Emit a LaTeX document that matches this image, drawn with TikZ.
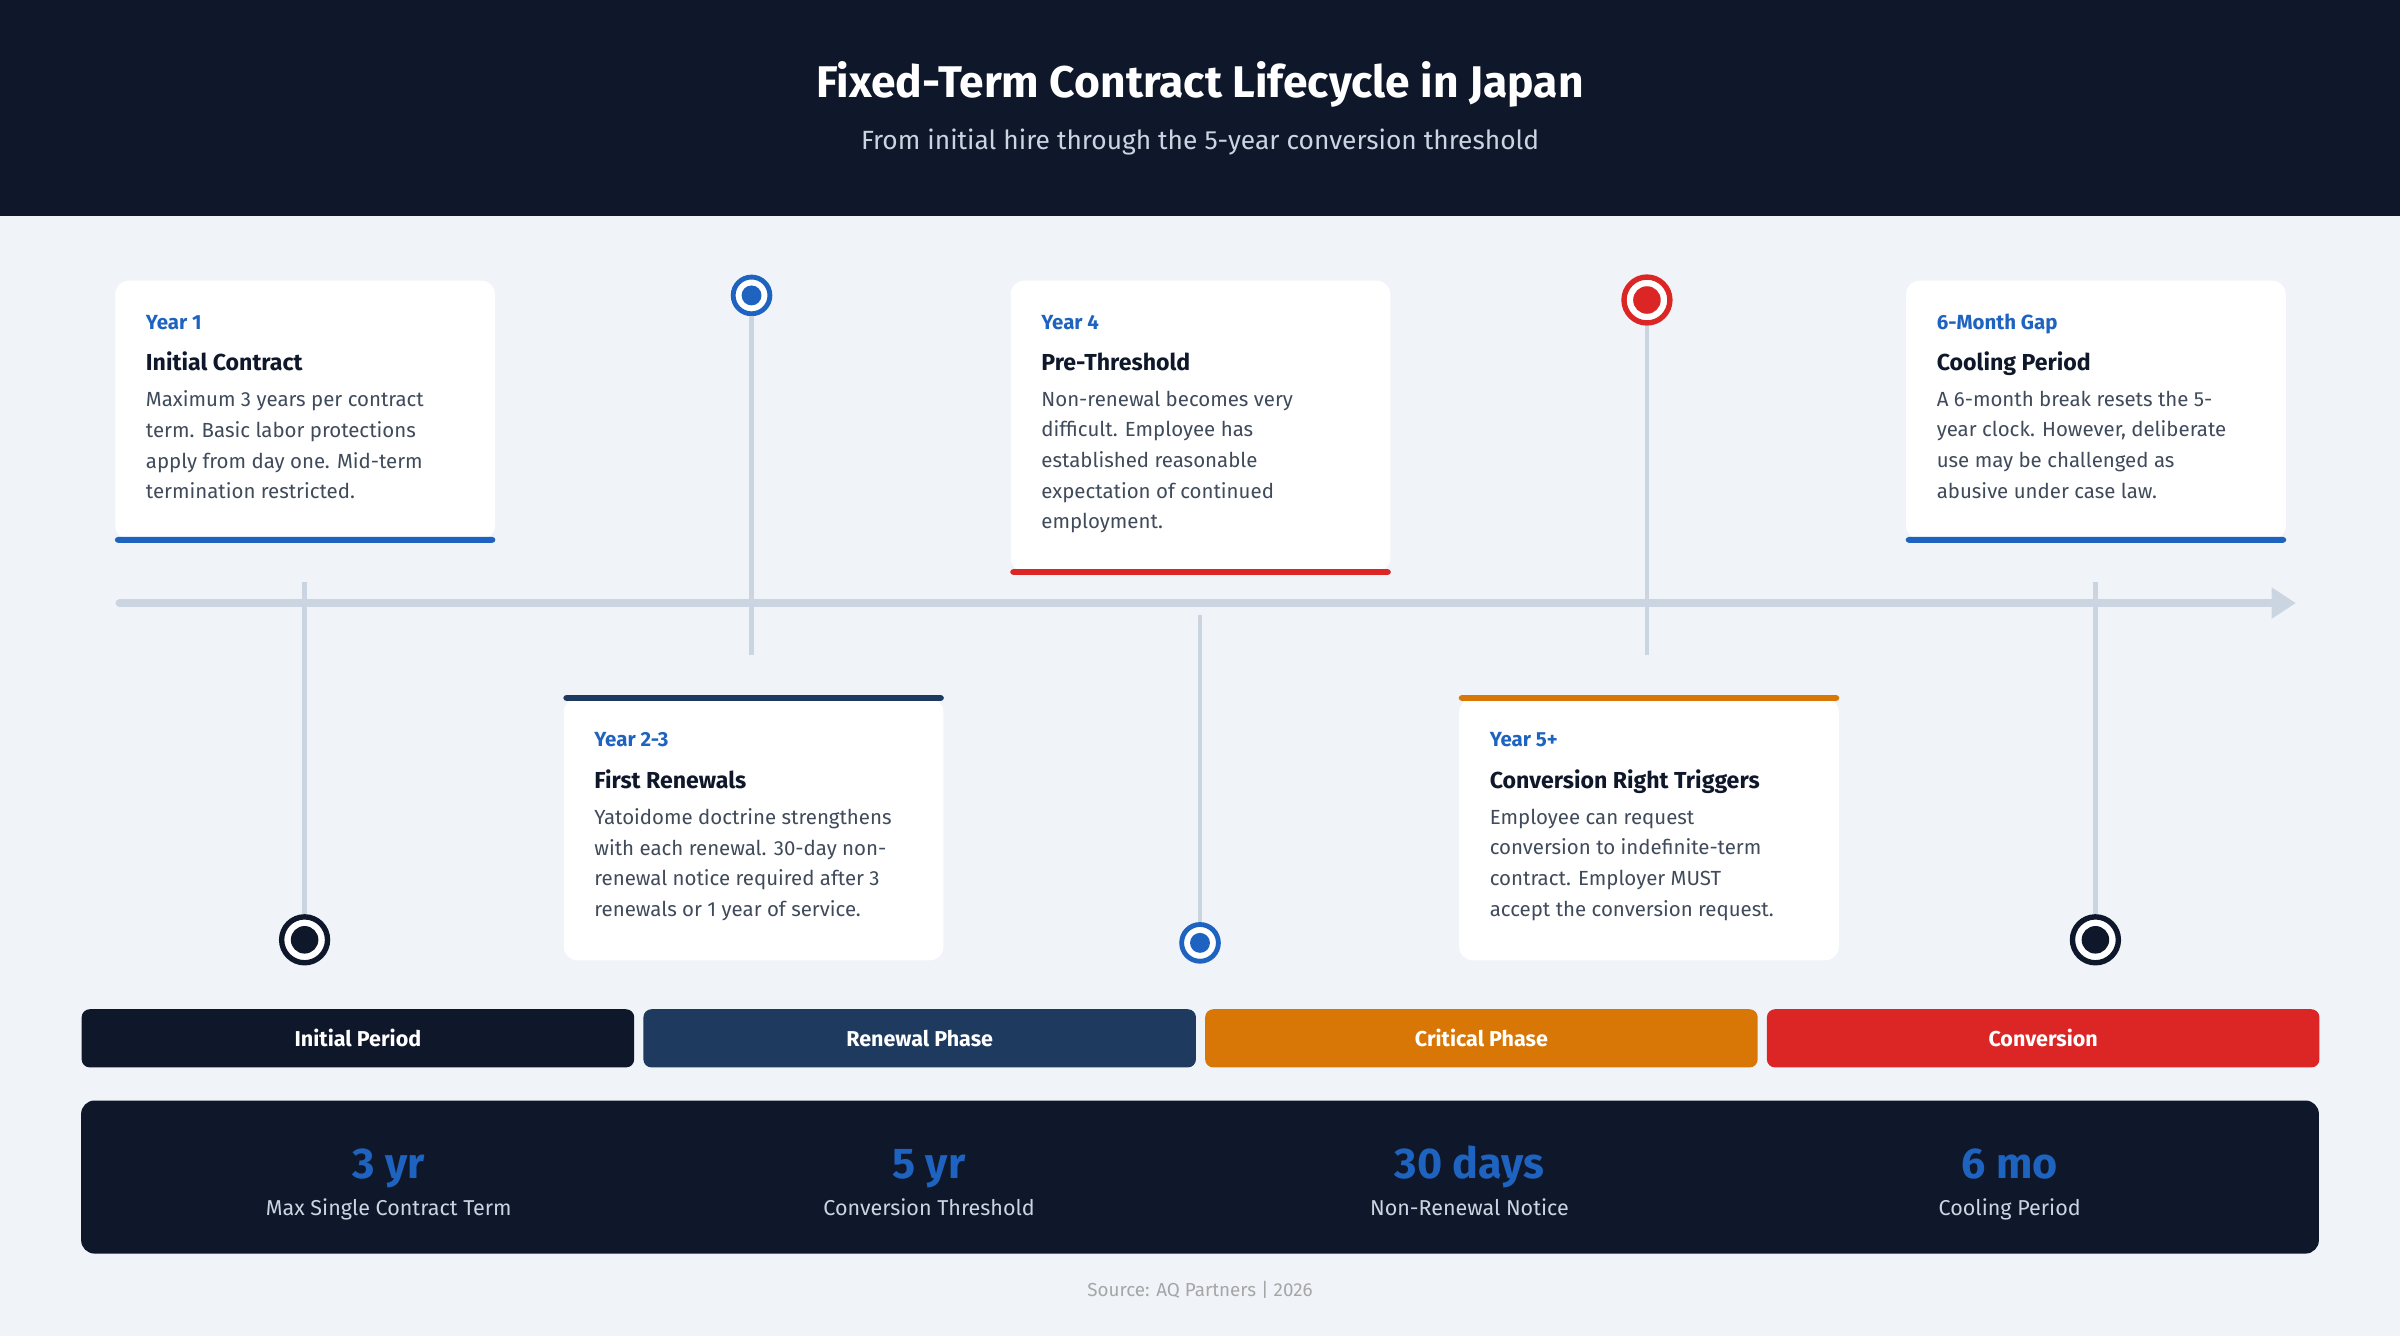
\documentclass[tikz,border=0pt]{standalone}
\usepackage{fontspec}
\setmainfont{Fira Sans}
\usetikzlibrary{arrows.meta}
\usetikzlibrary{positioning}

\definecolor{navy}{HTML}{0F172A}
\definecolor{slate}{HTML}{1E3A5F}
\definecolor{bluec}{HTML}{1E63C0}
\definecolor{redc}{HTML}{DC2626}
\definecolor{orangec}{HTML}{D97706}
\definecolor{pagebg}{HTML}{F0F4F8}
\definecolor{rail}{HTML}{CBD5E1}
\definecolor{bodytxt}{HTML}{3F4A5A}

\newcommand{\fs}[2]{\fontsize{#1}{#2}\selectfont}

% one event card: name, x, y (top left), height, label, title, body
\newcommand{\eventcard}[7]{%
  \node[card, minimum height=#4*0.02cm] (#1) at (#2,#3) {};
  \node[cardlabel] (#1-l) at ([xshift=20*0.02cm, yshift=-32*0.02cm]#1.north west) {#5};
  \node[cardtitle] (#1-t) at ([xshift=20*0.02cm, yshift=-59*0.02cm]#1.north west) {#6};
  \node[cardbody] (#1-b) at ([xshift=20*0.02cm, yshift=-72*0.02cm]#1.north west) {#7};
}

\begin{document}
\begin{tikzpicture}[x=0.02cm, y=-0.02cm]
  \tikzset{
    card/.style={anchor=north west, fill=white, rounded corners=5pt, minimum width=248*0.02cm, inner sep=0pt},
    cardlabel/.style={anchor=base west, inner sep=0pt, text=bluec, font=\fs{7.6}{9}\bfseries},
    cardtitle/.style={anchor=base west, inner sep=0pt, text=navy, font=\fs{8.6}{10}\bfseries},
    cardbody/.style={anchor=north west, inner sep=0pt, text=bodytxt, align=left, font=\fs{7.6}{11.4}},
    stem/.style={draw=rail, line width=1.6pt},
    phase/.style={anchor=north west, rounded corners=3pt, minimum width=361*0.02cm, minimum height=38*0.02cm, text=white, font=\fs{8}{10}\bfseries},
    statnum/.style={anchor=base, text=bluec, font=\fs{16}{18}\bfseries},
    statlbl/.style={anchor=base, text=rail, font=\fs{8}{10}},
  }
  % background and header
  \fill[pagebg] (0,0) rectangle (1568,873);
  \fill[navy] (0,0) rectangle (1568,141);
  \node[text=white, font=\fs{16.5}{20}\bfseries] (title) at (784,55) {Fixed-Term Contract Lifecycle in Japan};
  \node[text=rail, font=\fs{9.8}{12}] (subtitle) at (784,93) {From initial hire through the 5-year conversion threshold};

  % timeline rail
  \coordinate (railstart) at (78,394);
  \coordinate (railend) at (1500,394);
  \draw[rail, line width=2.8pt, line cap=round, -{Triangle[length=9pt, width=11pt]}] (railstart) -- (railend);

  % cards
  \eventcard{c1}{75}{183}{169}{Year 1}{Initial Contract}{Maximum 3 years per contract\\term. Basic labor protections\\apply from day one. Mid-term\\termination restricted.}
  \eventcard{c2}{368}{456}{171}{Year 2-3}{First Renewals}{Yatoidome doctrine strengthens\\with each renewal. 30-day non-\\renewal notice required after 3\\renewals or 1 year of service.}
  \eventcard{c3}{660}{183}{190}{Year 4}{Pre-Threshold}{Non-renewal becomes very\\difficult. Employee has\\established reasonable\\expectation of continued\\employment.}
  \eventcard{c4}{953}{456}{171}{Year 5+}{Conversion Right Triggers}{Employee can request\\conversion to indefinite-term\\contract. Employer MUST\\accept the conversion request.}
  \eventcard{c5}{1245}{183}{169}{6-Month Gap}{Cooling Period}{A 6-month break resets the 5-\\year clock. However, deliberate\\use may be challenged as\\abusive under case law.}

  % card accent borders
  \fill[bluec, rounded corners=1.2pt] ([yshift=1.1pt]c1.south west) rectangle ([yshift=-1.1pt]c1.south east);
  \fill[redc, rounded corners=1.2pt] ([yshift=1.1pt]c3.south west) rectangle ([yshift=-1.1pt]c3.south east);
  \fill[bluec, rounded corners=1.2pt] ([yshift=1.1pt]c5.south west) rectangle ([yshift=-1.1pt]c5.south east);
  \fill[slate, rounded corners=1.2pt] ([yshift=1.1pt]c2.north west) rectangle ([yshift=-1.1pt]c2.north east);
  \fill[orangec, rounded corners=1.2pt] ([yshift=1.1pt]c4.north west) rectangle ([yshift=-1.1pt]c4.north east);

  % markers
  \node[circle, draw=navy, line width=2pt, fill=white, minimum size=30*0.02cm, inner sep=0pt] (m1) at (199,614) {};
  \node[circle, draw=bluec, line width=1.8pt, fill=white, minimum size=24*0.02cm, inner sep=0pt] (m2) at (491,193) {};
  \node[circle, draw=bluec, line width=1.8pt, fill=white, minimum size=24*0.02cm, inner sep=0pt] (m3) at (784,616) {};
  \node[circle, draw=redc, line width=2pt, fill=white, minimum size=30*0.02cm, inner sep=0pt] (m4) at (1076,196) {};
  \node[circle, draw=navy, line width=2pt, fill=white, minimum size=30*0.02cm, inner sep=0pt] (m5) at (1369,614) {};
  \fill[navy] (m1) circle (9);
  \fill[bluec] (m2) circle (6.5);
  \fill[bluec] (m3) circle (6.5);
  \fill[redc] (m4) circle (9);
  \fill[navy] (m5) circle (9);

  % stems
  \coordinate (s1) at (199,380);
  \coordinate (s2) at (491,428);
  \coordinate (s3) at (784,402);
  \coordinate (s4) at (1076,428);
  \coordinate (s5) at (1369,380);
  \draw[stem] (s1) -- (m1.north);
  \draw[stem] (m2.south) -- (s2);
  \draw[stem] (s3) -- (m3.north);
  \draw[stem] (m4.south) -- (s4);
  \draw[stem] (s5) -- (m5.north);

  % phase bars
  \node[phase, fill=navy] (p1) at (53,659) {Initial Period};
  \node[phase, fill=slate] (p2) at (420,659) {Renewal Phase};
  \node[phase, fill=orangec] (p3) at (787,659) {Critical Phase};
  \node[phase, fill=redc] (p4) at (1154,659) {Conversion};

  % stats panel
  \fill[navy, rounded corners=5pt] (53,719) rectangle (1515,819);
  \node[statnum] (n1) at (254,770) {3 yr};
  \node[statnum] (n2) at (607,770) {5 yr};
  \node[statnum] (n3) at (960,770) {30 days};
  \node[statnum] (n4) at (1313,770) {6 mo};
  \node[statlbl] (l1) at (254,794) {Max Single Contract Term};
  \node[statlbl] (l2) at (607,794) {Conversion Threshold};
  \node[statlbl] (l3) at (960,794) {Non-Renewal Notice};
  \node[statlbl] (l4) at (1313,794) {Cooling Period};

  \node[text=gray!70, font=\fs{7}{9}] (source) at (784,843) {Source: AQ Partners | 2026};
\end{tikzpicture}
\end{document}
